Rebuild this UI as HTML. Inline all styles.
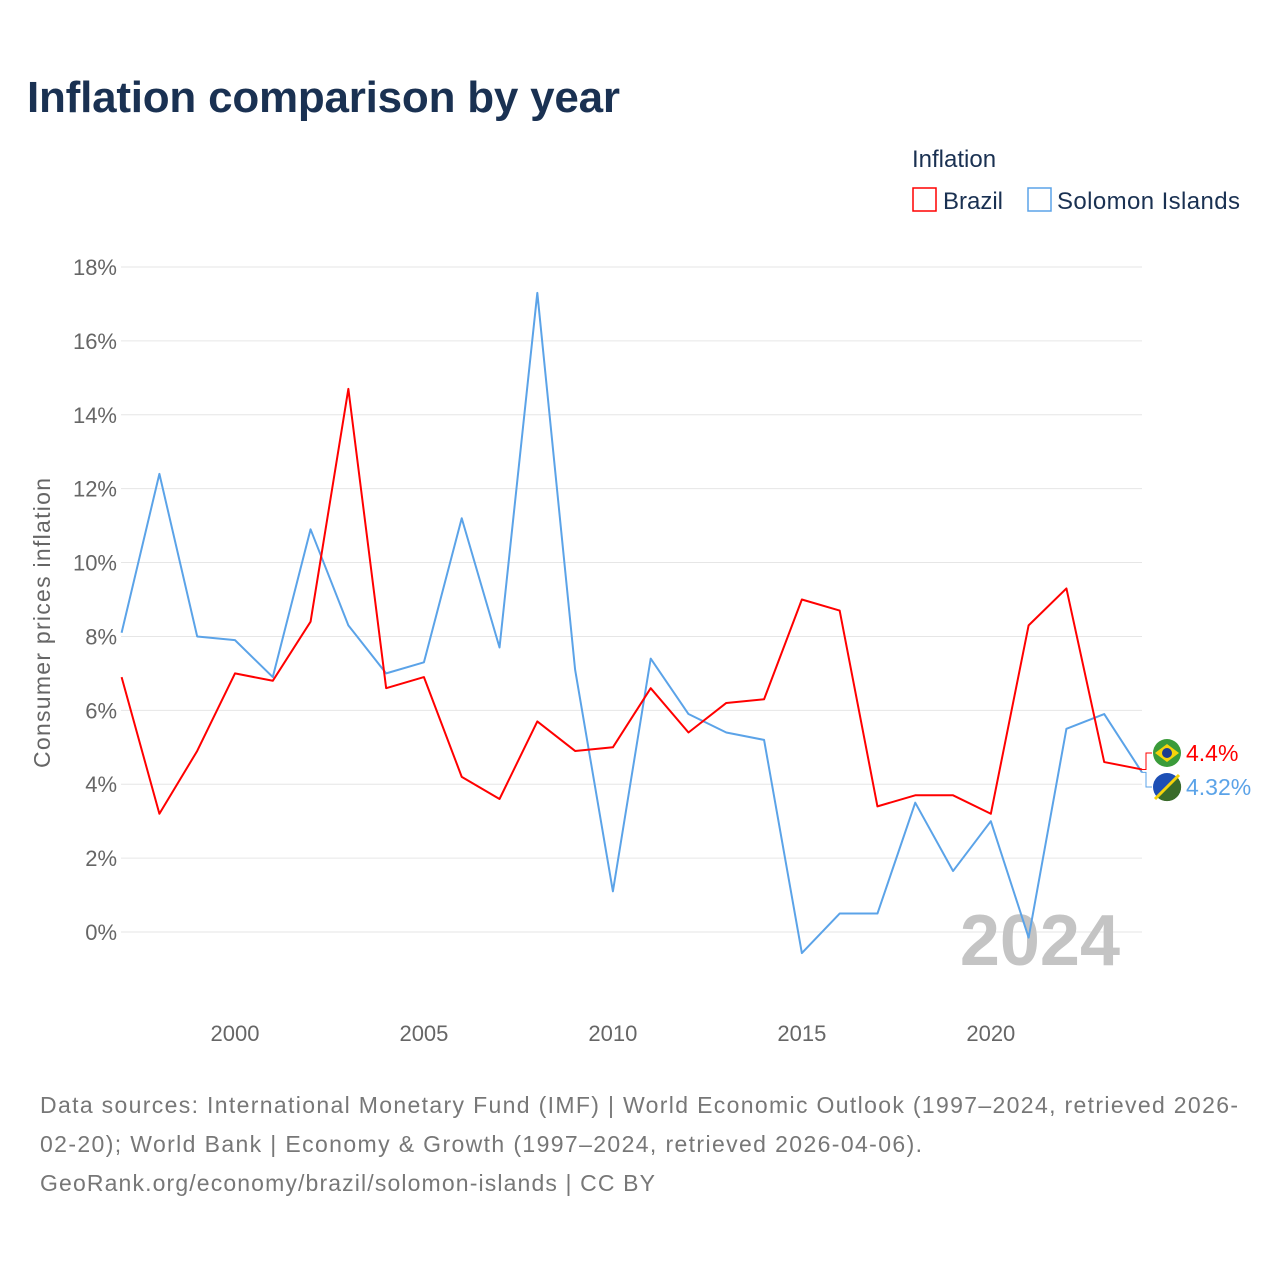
<!DOCTYPE html>
<html><head><meta charset="utf-8">
<style>
body{margin:0;background:#fff;font-family:"Liberation Sans",sans-serif;}
#wrap{position:relative;width:1280px;height:1280px;overflow:hidden;}
</style></head>
<body>
<div id="wrap">
<svg id="chart" width="1280" height="1280">
  <text x="27" y="112" font-size="44" font-weight="bold" fill="#1a3152" textLength="593">Inflation comparison by year</text>
  <text x="912" y="167" font-size="24" fill="#1a3152">Inflation</text>
  <g>
    <rect x="913" y="188" width="23" height="23" fill="none" stroke="#ff0000" stroke-width="1.5"/>
    <text x="943" y="209" font-size="24" fill="#1a3152">Brazil</text>
  </g>
  <g>
    <rect x="1028" y="188" width="23" height="23" fill="none" stroke="#5ba3e8" stroke-width="1.5"/>
    <text x="1057" y="209" font-size="24" fill="#1a3152" textLength="183">Solomon Islands</text>
  </g>
  <g id="grid"></g>
  <g id="yticks"></g>
  <g id="xticks"></g>
  <text transform="translate(50,623) rotate(-90)" text-anchor="middle" font-size="23" fill="#666" textLength="290">Consumer prices inflation</text>
  <text x="1120" y="965" text-anchor="end" font-size="72" font-weight="bold" fill="#c4c4c4">2024</text>
  <g id="series"></g>
  <g id="labels"></g>
  <text x="40" y="1113" font-size="23" fill="#777" textLength="1198">Data sources: International Monetary Fund (IMF) | World Economic Outlook (1997–2024, retrieved 2026-</text>
  <text x="40" y="1152" font-size="23" fill="#777" textLength="882">02-20); World Bank | Economy &amp; Growth (1997–2024, retrieved 2026-04-06).</text>
  <text x="40" y="1191" font-size="23" fill="#777" textLength="615">GeoRank.org/economy/brazil/solomon-islands | CC BY</text>
</svg>
</div>
<script>
const years=[1997,1998,1999,2000,2001,2002,2003,2004,2005,2006,2007,2008,2009,2010,2011,2012,2013,2014,2015,2016,2017,2018,2019,2020,2021,2022,2023,2024];
const brazil=[6.9,3.2,4.9,7.0,6.8,8.4,14.7,6.6,6.9,4.2,3.6,5.7,4.9,5.0,6.6,5.4,6.2,6.3,9.0,8.7,3.4,3.7,3.7,3.2,8.3,9.3,4.6,4.4];
const solomon=[8.1,12.4,8.0,7.9,6.9,10.9,8.3,7.0,7.3,11.2,7.7,17.3,7.1,1.1,7.4,5.9,5.4,5.2,-0.57,0.5,0.5,3.5,1.65,3.0,-0.15,5.5,5.9,4.32];
const yTicks=[0,2,4,6,8,10,12,14,16,18];
const xTicks=[2000,2005,2010,2015,2020];
const NS="http://www.w3.org/2000/svg";
const X=y=>121.6+(y-1997)*(1142-121.6)/27;
const Y=v=>932-v*(932-267)/18;
function mk(t,a,p){const e=document.createElementNS(NS,t);for(const k in a)e.setAttribute(k,a[k]);p.appendChild(e);return e;}
const grid=document.getElementById('grid'),yt=document.getElementById('yticks'),xt=document.getElementById('xticks');
yTicks.forEach(v=>{
  const l=mk('line',{x1:121,x2:1142,y1:Y(v),y2:Y(v),stroke:'#e6e6e6','stroke-width':1},grid);
  
  
  const t=mk('text',{x:117,y:Y(v)+8,'text-anchor':'end','font-size':22,fill:'#666'},yt);
  t.textContent=v+'%';
  
  
});
xTicks.forEach(v=>{
  const t=mk('text',{x:X(v),y:1041,'text-anchor':'middle','font-size':22,fill:'#666'},xt);
  t.textContent=v;
  
  
});
const ser=document.getElementById('series');
function line(vals,col,name){
  const p=mk('polyline',{points:vals.map((v,i)=>X(years[i])+','+Y(v)).join(' '),fill:'none',stroke:col,'stroke-width':2,'stroke-linejoin':'round'},ser);
  
  
}
line(solomon,'#5ba3e8','line-solomon-islands');
line(brazil,'#ff0000','line-brazil');
const lab=document.getElementById('labels');
const last=years.length-1;
const by=Y(brazil[last]), sy=Y(solomon[last]);
const lb=753, ls=787;
mk('polyline',{points:`1142,${by} 1146,${by} 1146,${lb} 1152,${lb}`,fill:'none',stroke:'#ff0000','stroke-width':1},lab);
mk('polyline',{points:`1142,${sy} 1146,${sy} 1146,${ls} 1152,${ls}`,fill:'none',stroke:'#5ba3e8','stroke-width':1},lab);
const f1=mk('g',{},lab);


mk('circle',{cx:1167,cy:lb,r:14,fill:'#3a9b3a'},f1);
mk('polygon',{points:`1155,${lb} 1167,${lb-9} 1179,${lb} 1167,${lb+9}`,fill:'#f5d30b'},f1);
mk('circle',{cx:1167,cy:lb,r:5,fill:'#1b3c8f'},f1);
const f2=mk('g',{},lab);


mk('circle',{cx:1167,cy:ls,r:14,fill:'#1d4fb5'},f2);
mk('path',{d:`M1177,${ls-10} A14,14 0 0 1 1157,${ls+10} Z`,fill:'#3a6b2a'},f2);
mk('line',{x1:1179,y1:ls-12,x2:1155,y2:ls+12,stroke:'#f5d30b','stroke-width':3},f2);
const t1=mk('text',{x:1186,y:lb+8,'font-size':23,fill:'#ff0000'},lab);
t1.textContent=brazil[last]+'%';


const t2=mk('text',{x:1186,y:ls+8,'font-size':23,fill:'#5ba3e8'},lab);
t2.textContent=solomon[last]+'%';


</script>
</body></html>
